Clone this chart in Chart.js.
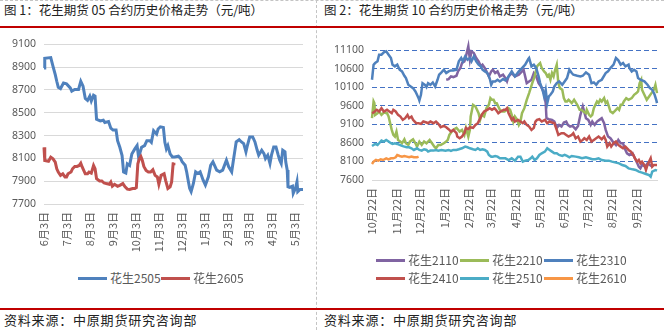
<!DOCTYPE html>
<html><head><meta charset="utf-8">
<script src="https://cdn.jsdelivr.net/npm/chart.js@4.4.1/dist/chart.umd.min.js"></script>
<style>
html,body{margin:0;padding:0;background:#fff;}
#page{position:relative;width:664px;height:330px;overflow:hidden;font-family:"Noto Sans CJK SC","Noto Sans",sans-serif;}
.title{position:absolute;top:1px;font-size:12.5px;letter-spacing:0;color:#222;white-space:nowrap;line-height:18px;}
.src{position:absolute;top:311px;font-size:13px;letter-spacing:0.8px;color:#222;white-space:nowrap;line-height:18px;}
.rule{position:absolute;left:0;width:664px;height:2px;background:#C00000;}
.vdash{position:absolute;left:316px;top:0;width:0;height:330px;border-left:1px dashed #c4c4c4;}
.hdash{position:absolute;left:0;top:0;width:664px;height:0;border-top:1px dashed #c4c4c4;}
canvas{position:absolute;}
.leg{position:absolute;font-size:12px;color:#595959;white-space:nowrap;line-height:14px;height:14px;}
.leg .sw{display:inline-block;width:29px;height:3px;vertical-align:middle;margin-right:3px;position:relative;top:-1px;}
</style></head>
<body>
<div id="page">
  <div class="hdash"></div>
  <div class="vdash"></div>
  <div class="title" style="left:4px;">图 1：花生期货 05 合约历史价格走势（元/吨）</div>
  <div class="title" style="left:324px;">图 2：花生期货 10 合约历史价格走势（元/吨）</div>
  <div class="rule" style="top:26px;"></div>
  <div class="rule" style="top:308px;"></div>
  <div class="src" style="left:4px;">资料来源：中原期货研究咨询部</div>
  <div class="src" style="left:324px;">资料来源：中原期货研究咨询部</div>
  <canvas id="c1" width="317" height="236" style="left:0;top:30px;"></canvas>
  <canvas id="c2" width="346" height="206" style="left:318px;top:30px;"></canvas>
  <div id="leg1"></div>
  <div id="leg2"></div>
</div>
<script>
// ---------- Figure 1: 05 contracts (x = days since 6月3日) ----------
const xTickDays05 = [0,30,61,92,122,153,183,214,245,273,304,334];
const xTickLabels05 = ['6月3日','7月3日','8月3日','9月3日','10月3日','11月3日','12月3日','1月3日','2月3日','3月3日','4月3日','5月3日'];
const yTicks05 = [7700,7900,8100,8300,8500,8700,8900,9100];

const days2505 = [0,1,9,12,15,17,19,22,26,30,35,37,41,46,49,52,55,58,61,63,66,68,70,75,79,81,86,89,92,96,98,101,104,106,109,111,114,117,121,124,126,130,134,137,141,143,146,150,152,155,159,161,163,165,168,171,174,179,182,184,188,190,192,194,196,199,202,205,208,212,215,219,222,225,227,230,234,238,243,246,250,252,254,256,260,263,266,269,271,274,278,281,284,286,290,293,295,298,301,303,306,309,312,314,316,318,321,322,324,325,327,331,332,335,337,338,341,345];
const vals2505 = [8892,8978,8984,8906,8834,8776,8724,8712,8761,8753,8718,8690,8704,8704,8776,8733,8625,8608,8646,8603,8654,8646,8443,8428,8434,8414,8423,8365,8348,8348,8255,8197,8125,7980,7971,8052,8038,8139,8183,8212,8110,8197,8212,8255,8255,8241,8342,8313,8357,8377,8371,8241,8183,8212,8139,8113,8113,8119,8099,8070,8040,7982,7909,7837,7808,7880,7982,7968,7982,7909,7866,7939,8040,8070,8040,7997,7982,7997,8084,8026,7982,8070,8157,8244,8264,8244,8229,8157,8215,8288,8288,8244,8171,8128,8171,8142,8099,8128,8055,8128,8200,8200,8128,8084,8055,8171,8157,8070,7997,7851,7846,7857,7793,7837,7895,7808,7828,7828];
const days2605 = [0,1,6,9,12,15,17,19,22,25,28,30,32,36,38,41,44,47,49,51,55,58,60,63,66,68,70,74,77,80,83,87,89,91,94,98,101,105,108,111,114,118,121,123,125,127,129,131,133,136,139,142,145,148,151,153,156,160,162,165,168,170,172,173];
const vals2605 = [8197,8081,8075,8110,8096,8067,8009,7980,7951,7965,7937,7937,7965,7980,8009,8029,8029,8038,8058,8023,7965,7965,7980,7971,8038,8009,7922,7902,7902,7884,7879,7873,7893,7856,7873,7856,7864,7879,7850,7830,7827,7836,7836,7844,8052,8096,8116,8081,8029,7994,7980,7980,8000,7951,7937,7873,7951,7965,7908,7836,7850,7893,8052,8061];

// ---------- Figure 2: 10 contracts (x = days since 10月22日) ----------
const xTickDays10 = [0,31,61,92,123,151,182,212,243,273,304,335];
const xTickLabels10 = ['10月22日','11月22日','12月22日','1月22日','2月22日','3月22日','4月22日','5月22日','6月22日','7月22日','8月22日','9月22日'];
const yTicks10 = [7600,8100,8600,9100,9600,10100,10600,11100];

const days2110 = [94,97,100,103,107,109,112,114,117,119,122,124,126,129,132,135,138,140,143,146,148,151,153,156,159,162,166,169,171,173,177,181,186,190,192,194,196,199,202,205,208,211,214,218,220,221,224,228,231,234,237,240,243,246,248,251,254,258,261,264,267,271,274,277,279,282,285,288,291,294,296,299,302,305,309,312,315,318,320,323,326,330,333,336,338,340,342,346,349,352,355];
const vals2110 = [10299,10317,10389,10371,10407,10524,10614,10749,10794,10929,11200,10839,11064,11019,10884,10794,10659,10704,10614,10479,10389,10524,10569,10479,10524,10389,10434,10344,10254,10389,10479,10389,10434,10524,10569,10389,10209,10254,10299,10479,10389,10209,10119,9939,9669,9264,9237,9219,9174,9003,9084,9039,9147,9174,9084,9039,9057,8967,9057,9354,9579,9264,9219,9084,9174,9084,9174,9219,9264,9129,8949,8769,8724,8634,8544,8679,8589,8589,8454,8319,8274,8319,8184,8049,7959,7914,8004,7959,8049,8004,7959];
const days2210 = [0,2,3,4,7,9,12,15,19,21,23,25,27,29,31,33,36,38,41,43,46,48,52,55,57,60,63,66,69,73,76,79,81,84,87,91,94,96,98,101,104,107,111,114,117,119,122,124,125,128,131,133,135,137,139,142,145,148,150,152,154,156,158,162,165,168,173,175,177,179,181,184,186,188,190,193,196,199,203,206,209,211,213,215,218,220,222,224,226,228,230,232,234,236,238,241,243,245,247,249,251,253,256,260,263,265,268,271,272,275,277,279,281,283,285,287,289,291,294,296,298,300,302,305,309,311,313,315,317,319,322,325,329,332,335,337,339,341,342,345,348,351,354,357,359,361];
const vals2210 = [9264,9714,9669,9354,9399,9444,9354,9417,9399,9309,9129,8949,8814,8769,8904,8679,8634,8589,8697,8589,8544,8634,8697,8589,8499,8634,8544,8634,8589,8679,8589,8499,8454,8544,8544,8589,8634,8679,8814,8904,8967,9003,8904,8949,8814,9003,8769,8949,9309,9624,9579,9489,9399,9219,9354,9309,9534,9624,9804,9759,9759,9669,9669,9489,9444,9444,9534,9489,9354,9174,9309,9219,9084,9174,9399,9534,9759,9939,10209,10389,10659,10704,10749,10614,10524,10479,10389,10434,10299,10479,10389,10569,10704,10209,10074,10029,9804,9714,9714,9759,9714,9669,9759,9624,9489,9489,9444,9399,9489,9354,9309,9354,9534,9624,9714,9669,9759,9714,9804,9669,9714,9579,9444,9399,9489,9534,9489,9624,9624,9714,9804,9759,9804,9894,9939,9984,10209,10299,10029,9894,9759,9849,9939,10029,10164,9939];
const days2310 = [0,2,4,7,9,12,15,18,21,24,26,29,32,35,38,41,43,46,49,52,55,57,59,60,62,64,67,69,71,74,77,80,83,85,88,91,94,97,100,103,107,110,113,115,118,121,124,126,129,132,135,138,140,143,146,149,151,153,156,159,162,166,169,173,177,181,186,190,194,198,199,202,205,208,211,213,216,218,220,222,224,226,229,231,234,237,241,244,247,250,253,255,260,264,267,271,275,278,281,284,287,291,296,299,302,306,309,312,315,318,321,325,326,329,332,335,337,340,345,349,352,355,358,360,361];
const vals2310 = [10299,10704,10749,10794,10974,10974,11037,11064,10974,10884,10704,10659,10704,10569,10524,10407,10344,10164,10119,10074,9984,9894,9804,9741,9894,10209,10164,10101,10209,10164,10227,10119,10299,10434,10497,10569,10479,10524,10551,10551,10569,10794,10884,10794,10929,10839,10884,10794,10929,10794,10704,10659,10569,10524,10479,10344,10164,10254,10254,10299,10254,10317,10281,10389,10524,10389,10524,10614,10704,10857,10884,10659,10704,10614,10389,10209,10029,9849,10029,9669,9849,9894,9984,10119,10209,10254,10164,10254,10344,10569,10479,10434,10407,10389,10407,10497,10434,10209,10227,10164,10254,10299,10479,10524,10614,10704,10884,10821,10704,10749,10659,10704,10614,10524,10569,10524,10344,10299,10254,10164,10074,10029,9894,9759,9669];
const days2410 = [0,2,6,9,12,15,19,22,25,27,30,33,36,39,42,45,47,50,52,56,59,62,65,69,71,74,78,81,84,87,91,94,97,100,103,107,108,111,114,117,119,122,124,128,131,134,136,139,142,146,149,152,155,157,160,163,167,169,171,173,175,177,179,181,185,188,191,193,196,199,202,205,207,209,212,215,219,222,225,228,231,234,236,240,243,246,249,253,255,258,261,264,267,269,272,275,278,281,284,287,291,294,296,298,301,303,306,309,312,315,318,321,325,328,331,333,336,338,340,342,345,347,349,351,353,355,357,359,361];
const vals2410 = [9399,9417,9489,9444,9534,9444,9489,9444,9399,9489,9444,9354,9309,9219,9264,9354,9264,9309,9219,9129,9129,9111,9174,9147,9129,9174,9129,9174,9111,9021,9057,9021,8967,8904,8949,8859,8769,8724,8769,8859,9003,8967,9021,9003,9084,9129,9219,9354,9444,9489,9534,9489,9534,9489,9399,9444,9489,9489,9534,9399,9309,9219,9264,9174,9219,9174,9129,9174,9084,9039,8949,9003,9174,9219,9237,9174,9219,9129,9174,9147,9129,8949,8814,8859,8859,8814,8769,8814,8859,8724,8769,8634,8679,8724,8679,8769,8634,8679,8724,8769,8697,8769,8679,8499,8589,8499,8589,8634,8544,8499,8454,8499,8409,8364,8274,8184,8094,8139,8049,8094,8004,7869,8004,8094,8184,7959,8004,8004,8004];
const days2510 = [0,4,7,9,12,15,18,21,24,26,29,32,35,38,41,44,47,50,53,57,60,63,66,69,71,74,78,81,84,88,93,97,100,103,107,110,114,118,121,124,128,131,134,137,140,143,146,148,151,153,156,159,162,166,169,173,177,181,185,188,191,194,198,201,203,206,209,212,215,219,222,225,228,231,234,237,241,244,247,250,253,258,262,266,271,275,279,283,287,291,296,300,304,309,313,317,321,325,330,334,338,342,347,351,353,355,359,361];
const vals2510 = [8517,8571,8544,8589,8661,8634,8679,8634,8589,8571,8589,8571,8544,8517,8499,8481,8481,8454,8409,8454,8409,8391,8427,8409,8364,8391,8391,8409,8391,8409,8391,8409,8382,8409,8409,8427,8454,8499,8481,8454,8427,8409,8454,8409,8427,8409,8364,8274,8229,8229,8247,8229,8184,8184,8184,8139,8184,8121,8229,8229,8094,8121,8139,8184,8229,8139,8184,8274,8319,8364,8454,8409,8364,8319,8319,8274,8247,8274,8247,8211,8247,8229,8211,8184,8211,8184,8157,8157,8184,8139,8121,8121,8094,8067,8049,8004,7977,7914,7887,7869,7824,7797,7761,7734,7689,7824,7869,7851];
const days2610 = [0,2,5,8,11,14,18,21,24,27,30,32,35,38,41,44,47,50,53,57,59];
const vals2610 = [8031,8094,8139,8121,8157,8139,8184,8157,8184,8184,8211,8274,8247,8229,8247,8229,8211,8229,8211,8211,8229];

const names05 = ['花生2505','花生2605'];
const colors05 = ['#4F81BD','#C0504D'];
const names10 = ['花生2110','花生2210','花生2310','花生2410','花生2510','花生2610'];
const colors10 = ['#8064A2','#9BBB59','#4F81BD','#C0504D','#4BACC6','#F79646'];

const pts = (d, v) => d.map((x, i) => ({x: x, y: v[i]}));
const tickColor = '#595959';
const cjk = '"Noto Sans CJK SC", "Noto Sans", sans-serif';
const num = '"Noto Sans", "Liberation Sans", sans-serif';

function makeChart(id, cfg) {
  const series = cfg.series.map((s, i) => ({
    label: s.name, data: pts(s.days, s.vals), borderColor: s.color, backgroundColor: s.color,
    borderWidth: cfg.lineWidth, pointRadius: 0, tension: 0, fill: false, order: -i, clip: false
  }));
  return new Chart(document.getElementById(id), {
    type: 'line',
    data: {datasets: series},
    options: {
      responsive: false, animation: false, events: [],
      layout: {padding: cfg.padding},
      plugins: {legend: {display: false}, tooltip: {enabled: false}},
      scales: {
        x: {
          type: 'linear', min: 0, max: cfg.xMax,
          afterBuildTicks: (s) => { s.ticks = cfg.xTickDays.map(v => ({value: v})); },
          afterFit: (s) => { s.height = cfg.xHeight; },
          ticks: {autoSkip: false, minRotation: 90, maxRotation: 90, padding: 8, color: tickColor,
            font: {family: cjk, size: 11}, callback: (v, i) => cfg.xTickLabels[i]},
          grid: {display: false, drawTicks: false},
          border: {display: true, color: '#d9d9d9', width: 1}
        },
        y: {
          min: cfg.yTicks[0], max: cfg.yTicks[cfg.yTicks.length - 1],
          afterBuildTicks: (s) => { s.ticks = cfg.yTicks.map(v => ({value: v})); },
          afterFit: (s) => { s.width = cfg.yWidth; },
          ticks: {padding: 8, color: tickColor, font: {family: num, size: 10.5}, callback: (v) => String(v)},
          grid: {drawTicks: false, lineWidth: 1, color: cfg.gridColor},
          border: {display: false, dash: cfg.gridDash}
        }
      }
    }
  });
}

makeChart('c1', {
  series: [
    {name: names05[0], days: days2505, vals: vals2505, color: colors05[0]},
    {name: names05[1], days: days2605, vals: vals2605, color: colors05[1]}
  ],
  lineWidth: 3, xMax: 345, xTickDays: xTickDays05, xTickLabels: xTickLabels05, yTicks: yTicks05,
  padding: {top: 12, right: 14, left: 0, bottom: 0}, xHeight: 62, yWidth: 44,
  gridColor: '#d9d9d9', gridDash: []
});

makeChart('c2', {
  series: [
    {name: names10[0], days: days2110, vals: vals2110, color: colors10[0]},
    {name: names10[1], days: days2210, vals: vals2210, color: colors10[1]},
    {name: names10[2], days: days2310, vals: vals2310, color: colors10[2]},
    {name: names10[3], days: days2410, vals: vals2410, color: colors10[3]},
    {name: names10[4], days: days2510, vals: vals2510, color: colors10[4]},
    {name: names10[5], days: days2610, vals: vals2610, color: colors10[5]}
  ],
  lineWidth: 2.5, xMax: 361, xTickDays: xTickDays10, xTickLabels: xTickLabels10, yTicks: yTicks10,
  padding: {top: 20, right: 7, left: 0, bottom: 0}, xHeight: 56, yWidth: 54,
  gridColor: (ctx) => (ctx.tick && ctx.tick.value === 7600) ? 'rgba(0,0,0,0)' : '#4472C4',
  gridDash: [5, 3]
});

// HTML legends
function legend(holderId, names, colors, positions) {
  const holder = document.getElementById(holderId);
  names.forEach((n, i) => {
    const d = document.createElement('div');
    d.className = 'leg';
    d.style.left = positions[i][0] + 'px';
    d.style.top = positions[i][1] + 'px';
    const sw = document.createElement('span');
    sw.className = 'sw';
    sw.style.background = colors[i];
    d.appendChild(sw);
    d.appendChild(document.createTextNode(n));
    holder.appendChild(d);
  });
}
legend('leg1', names05, colors05, [[78, 271], [161, 271]]);
legend('leg2', names10, colors10, [[376, 253], [460, 253], [544, 253], [376, 271], [460, 271], [544, 271]]);
</script>
</body></html>
